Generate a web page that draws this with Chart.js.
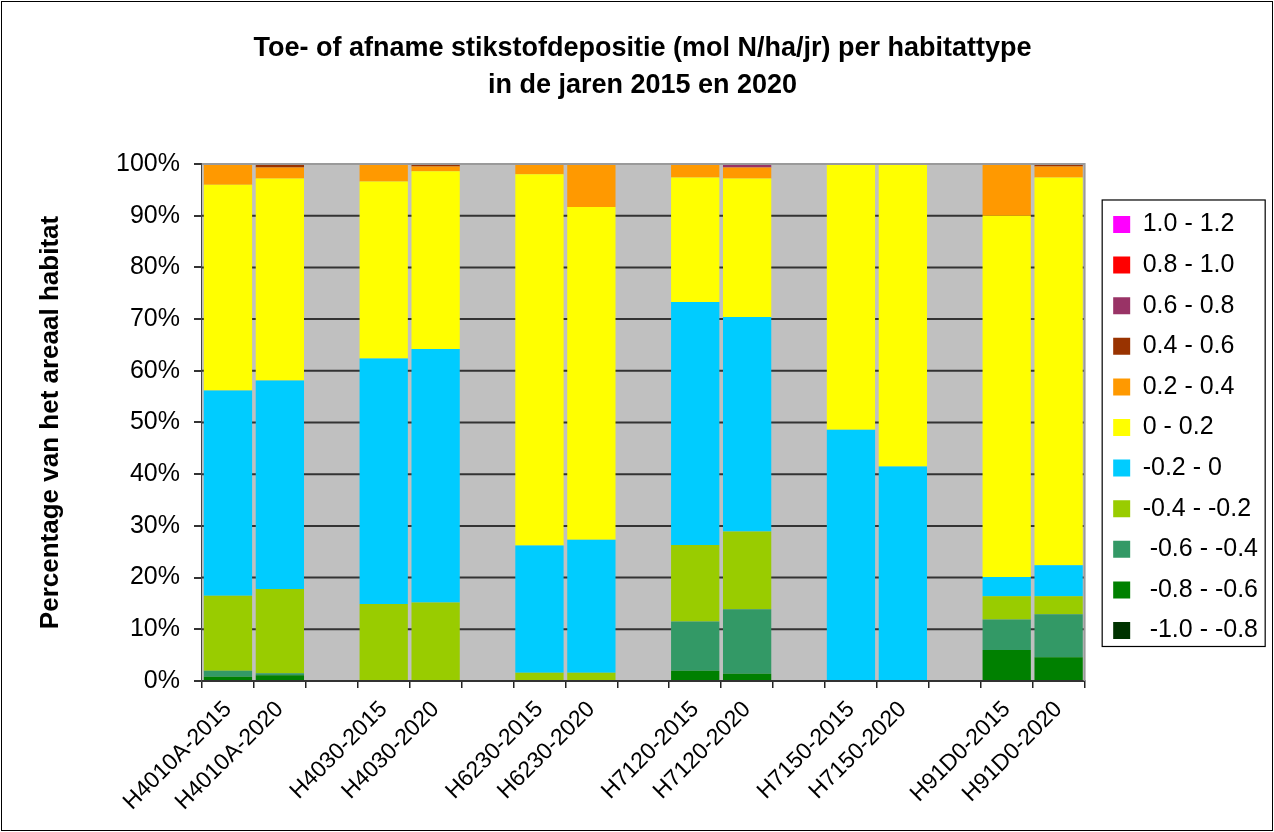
<!DOCTYPE html>
<html>
<head>
<meta charset="utf-8">
<script src="https://cdn.jsdelivr.net/npm/chart.js@4"></script>
<style>
    html, body { margin: 0; padding: 0; background: #fff; }
    #wrap { width: 1274px; height: 832px; }
</style>
</head>
<body>
<div id="wrap"><canvas id="habitatChart" width="1274" height="832"></canvas></div>
<script>
// categories (empty strings are the spacer columns between habitat types)
const categories = ['H4010A-2015', 'H4010A-2020', '', 'H4030-2015', 'H4030-2020', '', 'H6230-2015', 'H6230-2020', '',
    'H7120-2015', 'H7120-2020', '', 'H7150-2015', 'H7150-2020', '', 'H91D0-2015', 'H91D0-2020'];

// percentage of habitat area per deposition class
const m10_m08 = [0, 0, null, 0, 0, null, 0, 0, null, 0, 0, null, 0, 0, null, 0, 0.2];
const m08_m06 = [0.8, 1.1, null, 0, 0, null, 0, 0, null, 2.0, 1.4, null, 0, 0, null, 6.0, 4.4];
const m06_m04 = [1.2, 0.4, null, 0, 0, null, 0, 0, null, 9.5, 12.5, null, 0, 0, null, 5.9, 8.3];
const m04_m02 = [14.5, 16.3, null, 14.9, 15.2, null, 1.6, 1.6, null, 14.8, 15.0, null, 0, 0, null, 4.5, 3.5];
const m02_0 = [39.7, 40.3, null, 47.5, 49.0, null, 24.6, 25.7, null, 47.0, 41.5, null, 48.6, 41.5, null, 3.7, 6.0];
const p0_02 = [39.8, 39.1, null, 34.2, 34.4, null, 71.8, 64.4, null, 24.1, 26.8, null, 51.4, 58.5, null, 69.9, 75.0];
const p02_04 = [4.0, 2.1, null, 3.4, 0.9, null, 2.0, 8.3, null, 2.6, 2.1, null, 0, 0, null, 10.0, 2.1];
const p04_06 = [0, 0.7, null, 0, 0.5, null, 0, 0, null, 0, 0, null, 0, 0, null, 0, 0.5];
const p06_08 = [0, 0, null, 0, 0, null, 0, 0, null, 0, 0.7, null, 0, 0, null, 0, 0];
const p08_10 = [0, 0, null, 0, 0, null, 0, 0, null, 0, 0, null, 0, 0, null, 0, 0];
const p10_12 = [0, 0, null, 0, 0, null, 0, 0, null, 0, 0, null, 0, 0, null, 0, 0];

const seriesNames = [' -1.0 - -0.8', ' -0.8 - -0.6', ' -0.6 - -0.4', '-0.4 - -0.2', '-0.2 - 0', '0 - 0.2',
    '0.2 - 0.4', '0.4 - 0.6', '0.6 - 0.8', '0.8 - 1.0', '1.0 - 1.2'];
const seriesData = [m10_m08, m08_m06, m06_m04, m04_m02, m02_0, p0_02, p02_04, p04_06, p06_08, p08_10, p10_12];
const seriesColors = ['#003300', '#008000', '#339966', '#99CC00', '#00CCFF', '#FFFF00',
    '#FF9900', '#993300', '#993366', '#FF0000', '#FF00FF'];

const yTicks = [0, 10, 20, 30, 40, 50, 60, 70, 80, 90, 100];

const FONT = '"Liberation Sans", Arial, Helvetica, sans-serif';

const datasets = seriesNames.map((name, i) => ({
    label: name,
    data: seriesData[i],
    backgroundColor: seriesColors[i],
    borderWidth: 0,
    barPercentage: 0.93,
    categoryPercentage: 1.0
}));

// grey plot background, horizontal grid, outer frame and legend frame
const decorations = {
    id: 'decorations',
    afterLayout(chart) {
        // push the legend a bit away from the plot area
        const lg = chart.legend;
        lg.left += 13;
        lg.right += 13;
        lg.top += 5;
        lg.bottom += 5;
    },
    beforeDatasetsDraw(chart) {
        const { ctx, chartArea: a, scales } = chart;
        ctx.save();
        ctx.fillStyle = '#C0C0C0';
        ctx.fillRect(a.left, a.top, a.right - a.left, a.bottom - a.top);
        // gridlines at the y ticks, behind the bars
        ctx.strokeStyle = '#333';
        ctx.lineWidth = 2;
        yTicks.forEach(v => {
            const y = scales.y.getPixelForValue(v);
            ctx.beginPath();
            ctx.moveTo(a.left, y);
            ctx.lineTo(a.right, y);
            ctx.stroke();
        });
        ctx.restore();
    },
    afterDraw(chart) {
        const { ctx, chartArea: a } = chart;
        ctx.save();
        // light frame on top / right of plot
        ctx.strokeStyle = '#9a9a9a';
        ctx.lineWidth = 2;
        ctx.beginPath();
        ctx.moveTo(a.left, a.top);
        ctx.lineTo(a.right, a.top);
        ctx.lineTo(a.right, a.bottom);
        ctx.stroke();
        // outer border
        ctx.strokeStyle = '#000';
        ctx.lineWidth = 1;
        ctx.strokeRect(1.5, 1.5, chart.width - 3, chart.height - 3);
        // legend border
        const hb = chart.legend.legendHitBoxes;
        if (hb && hb.length) {
            const first = hb[0];
            const last = hb[hb.length - 1];
            const x0 = first.left - 11;
            const y0 = first.top + first.height / 2 - 24.5;
            const y1 = last.top + last.height / 2 + 16;
            ctx.strokeStyle = '#000';
            ctx.lineWidth = 1.2;
            ctx.strokeRect(x0, y0, 163, y1 - y0);
        }
        ctx.restore();
    }
};

new Chart(document.getElementById('habitatChart'), {
    type: 'bar',
    data: {
        labels: categories,
        datasets: datasets
    },
    plugins: [decorations],
    options: {
        responsive: false,
        animation: false,
        layout: {
            padding: { top: 0, left: 30, right: 19, bottom: 0 }
        },
        plugins: {
            title: {
                display: true,
                text: ['Toe- of afname stikstofdepositie (mol N/ha/jr) per habitattype', 'in de jaren 2015 en 2020'],
                color: '#000',
                font: { family: '"Liberation Sans Narrow", ' + FONT, size: 27, weight: 'bold', lineHeight: 1.37 },
                padding: { top: 30.5, bottom: 59.5 }
            },
            legend: {
                position: 'right',
                fullSize: false,
                reverse: true,
                labels: {
                    color: '#000',
                    font: { family: FONT, size: 25 },
                    boxWidth: 17,
                    boxHeight: 17,
                    padding: 15.6
                }
            },
            tooltip: { enabled: false }
        },
        scales: {
            x: {
                stacked: true,
                afterFit(scale) { scale.height = 151; },
                grid: {
                    offset: true,
                    drawOnChartArea: false,
                    drawTicks: true,
                    tickLength: 7,
                    color: '#222',
                    lineWidth: 1.5
                },
                border: { color: '#222', width: 2 },
                ticks: {
                    color: '#000',
                    font: { family: FONT, size: 23 },
                    minRotation: 45,
                    maxRotation: 45,
                    autoSkip: false,
                    padding: 8
                }
            },
            y: {
                stacked: true,
                min: 0,
                max: 100,
                afterFit(scale) { scale.width = 172; },
                afterBuildTicks(scale) { scale.ticks = yTicks.map(v => ({ value: v })); },
                grid: {
                    drawOnChartArea: false,
                    color: '#333',
                    lineWidth: 2,
                    tickLength: 8
                },
                border: { color: '#444', width: 2 },
                ticks: {
                    color: '#000',
                    font: { family: FONT, size: 25 },
                    padding: 14,
                    callback: v => v + '%'
                },
                title: {
                    display: true,
                    text: 'Percentage van het areaal habitat',
                    color: '#000',
                    font: { family: FONT, size: 26, weight: 'bold' },
                    padding: { top: 5, bottom: 0 }
                }
            }
        }
    }
});
</script>
</body>
</html>
